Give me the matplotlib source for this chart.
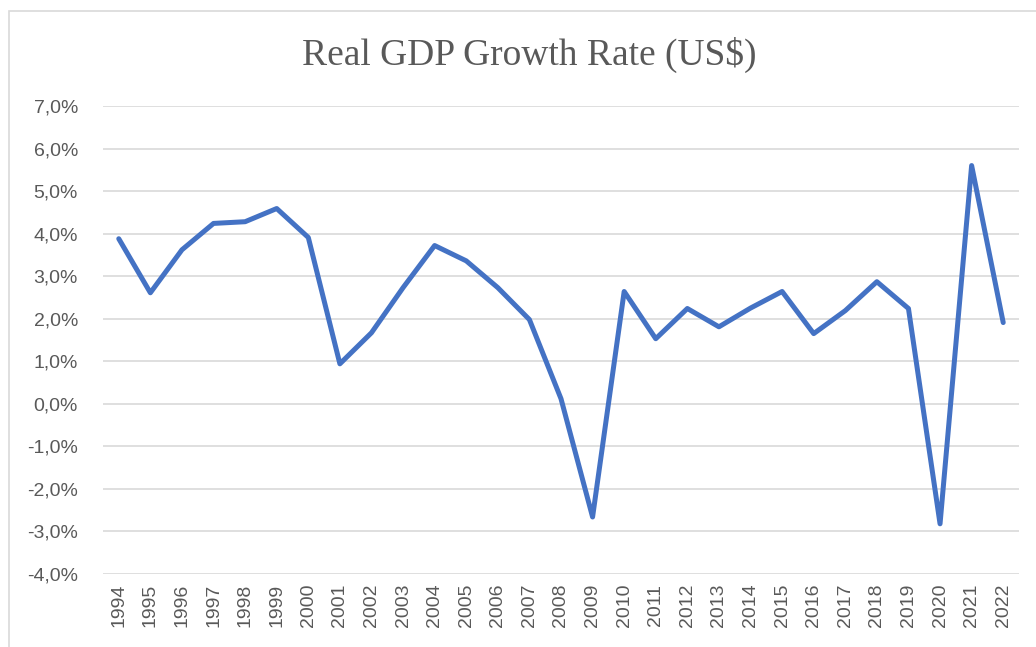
import matplotlib.pyplot as plt
from matplotlib.patches import Rectangle
from matplotlib.ticker import FuncFormatter

years = [str(y) for y in range(1994, 2023)]
growth = [3.88, 2.61, 3.62, 4.24, 4.28, 4.59, 3.91, 0.94, 1.67, 2.73,
          3.72, 3.36, 2.73, 1.98, 0.12, -2.66, 2.64, 1.53, 2.24, 1.81,
          2.25, 2.64, 1.65, 2.19, 2.87, 2.24, -2.82, 5.60, 1.91]

fig = plt.figure(figsize=(10.36, 6.47), dpi=100)
ax = fig.add_axes([0.0994, 0.1128, 0.8842, 0.7234])

# chart frame
fig.patches.append(Rectangle((9 / 1036, -0.05), 1.2, 1 - 11 / 647 + 0.05,
                             transform=fig.transFigure, fill=False,
                             edgecolor='#d9d9d9', linewidth=1.2))

x = range(len(years))
ax.plot(x, growth, color='#4472C4', linewidth=3.6, solid_joinstyle='round',
        solid_capstyle='round', zorder=3)

ax.set_xlim(-0.5, len(years) - 0.5)
ax.set_ylim(-4, 7)
ax.set_yticks(range(-4, 8))
ax.yaxis.set_major_formatter(FuncFormatter(lambda v, p: f'{v:.1f}%'.replace('.', ',')))
ax.set_xticks(list(x))
ax.set_xticklabels(years, rotation=90)
ax.grid(axis='y', color='#d9d9d9', linewidth=1.2)
ax.set_axisbelow(True)
for s in ax.spines.values():
    s.set_visible(False)
ax.tick_params(length=0, labelsize=14, colors='#595959', labelfontfamily='Liberation Sans')
ax.tick_params(axis='y', pad=18)
ax.tick_params(axis='x', pad=7)

fig.text(529 / 1036, 1 - 55 / 647, 'Real GDP Growth Rate (US$)', ha='center', va='center',
         fontsize=27, family='Liberation Serif', color='#595959')

fig.savefig('out.png', dpi=100)
